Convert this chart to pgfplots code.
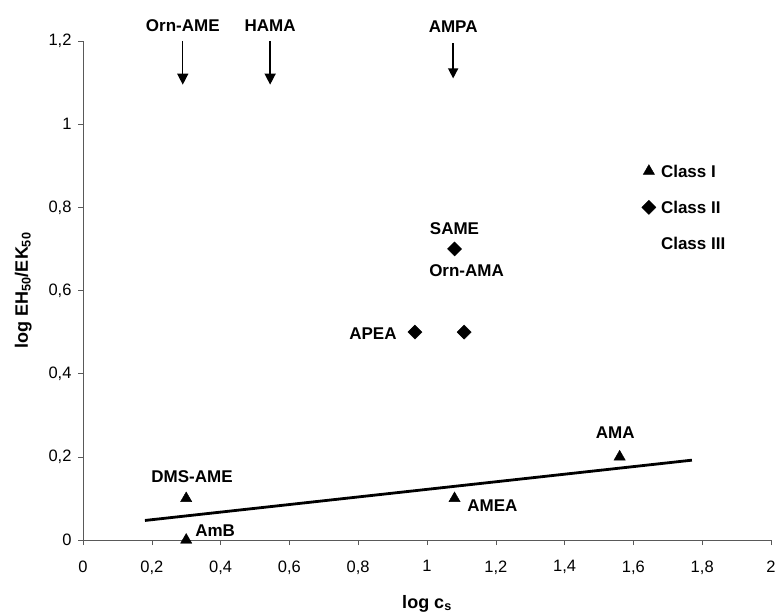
\documentclass[border=0pt]{standalone}
\usepackage{fontspec}
\setmainfont{Liberation Sans}
\usepackage{pgfplots}
\pgfplotsset{compat=1.18}
\usetikzlibrary{arrows.meta}
\begin{document}
\begin{tikzpicture}[x=1pt,y=1pt]
\useasboundingbox (0,0) rectangle (778,614);
\begin{axis}[
  at={(83pt,74pt)}, anchor=south west,
  scale only axis, width=688pt, height=499pt,
  xmin=0, xmax=2, ymin=0, ymax=1.2,
  axis x line*=bottom, axis y line*=left,
  axis line style={gray!70!black, thin, -},
  xtick={0,0.2,...,2.01}, ytick={0,0.2,...,1.21},
  tick style={gray!70!black, thin},
  tick align=outside, major tick length=5pt,
  /pgf/number format/use comma,
  /pgf/number format/assume math mode=true,
  ticklabel style={font=\fontsize{16.5}{18}\selectfont},
  xticklabel style={yshift=-12pt},
  yticklabel style={xshift=-3pt},
  xlabel={\textbf{log c\textsubscript{s}}},
  ylabel={\textbf{log EH\textsubscript{50}/EK\textsubscript{50}}},
  label style={font=\fontsize{18}{20}\selectfont},
  xlabel style={yshift=-14pt},
  ylabel style={yshift=10pt},
  clip=false,
]
% Class I
\addplot[only marks, mark=triangle*, mark size=6.5pt, black] coordinates {
 (0.30,0.10) (0.30,0.00) (1.08,0.10) (1.56,0.20)
};
% Class II
\addplot[only marks, mark=square*, mark size=5pt, mark options={rotate=45}, black] coordinates {
 (1.08,0.70) (0.965,0.50) (1.108,0.50)
};
% trend line
\addplot[black, line width=2.8pt] coordinates {(0.18,0.047) (1.77,0.192)};
% arrows
\addplot[black, line width=1.4pt, -{Triangle[width=11pt,length=11pt]}] coordinates {(0.29,1.2) (0.29,1.095)};
\addplot[black, line width=1.4pt, -{Triangle[width=11pt,length=11pt]}] coordinates {(0.544,1.2) (0.544,1.095)};
\addplot[black, line width=1.4pt, -{Triangle[width=10pt,length=10pt]}] coordinates {(1.076,1.195) (1.076,1.11)};
% legend markers
\addplot[only marks, mark=triangle*, mark size=6.5pt, black] coordinates {(1.645,0.887)};
\addplot[only marks, mark=square*, mark size=5pt, mark options={rotate=45}, black] coordinates {(1.645,0.80)};
\begin{scope}[every node/.style={font=\fontsize{17}{19}\selectfont\bfseries}]
\node at (axis cs:0.29,1.238) {Orn-AME};
\node at (axis cs:0.544,1.238) {HAMA};
\node at (axis cs:1.076,1.235) {AMPA};
\node at (axis cs:1.08,0.748) {SAME};
\node at (axis cs:1.115,0.647) {Orn-AMA};
\node at (axis cs:0.843,0.497) {APEA};
\node at (axis cs:0.317,0.152) {DMS-AME};
\node at (axis cs:0.384,0.022) {AmB};
\node at (axis cs:1.19,0.082) {AMEA};
\node at (axis cs:1.547,0.257) {AMA};
\node[anchor=west] at (axis cs:1.67,0.887) {Class I};
\node[anchor=west] at (axis cs:1.67,0.80) {Class II};
\node[anchor=west] at (axis cs:1.67,0.714) {Class III};
\end{scope}
\end{axis}
\end{tikzpicture}
\end{document}
